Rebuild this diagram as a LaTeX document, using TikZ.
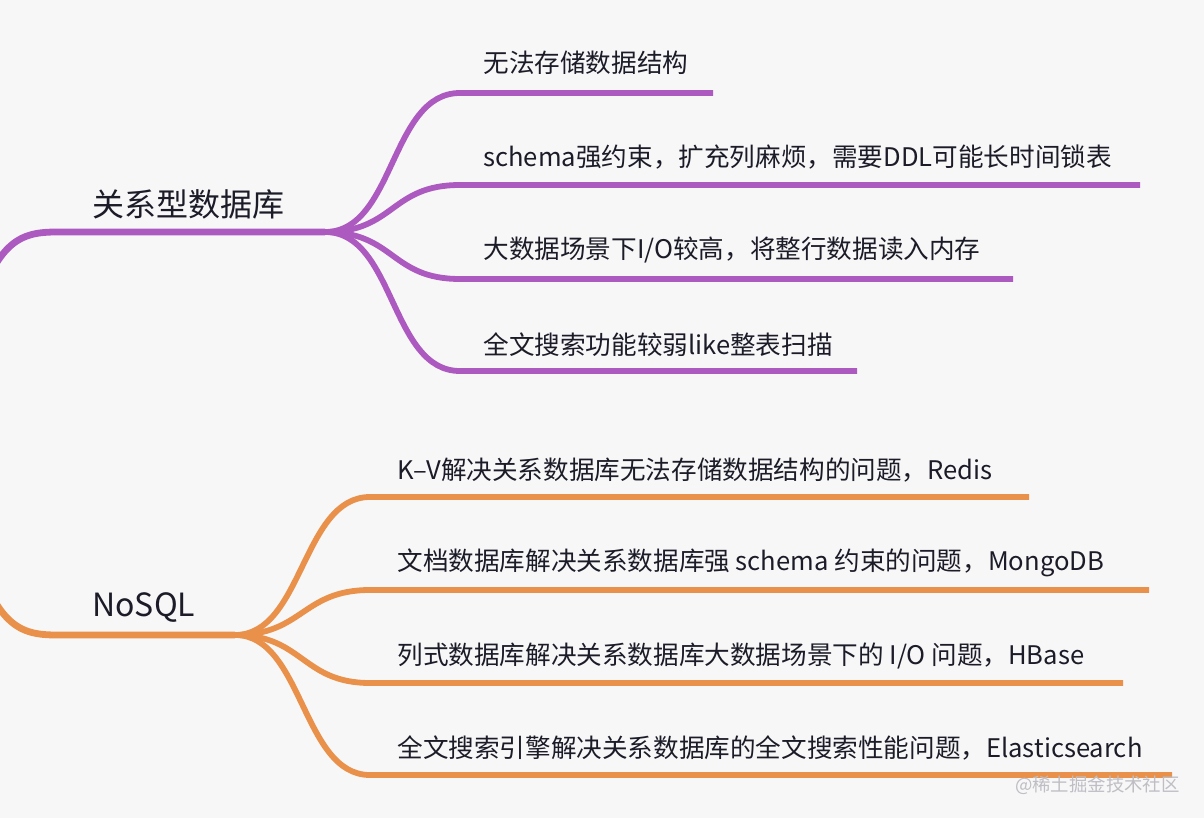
\documentclass[tikz,border=0pt]{standalone}
\usepackage{fontspec}
\newfontfamily\cjk{Noto Sans CJK SC}
\usetikzlibrary{positioning}
\definecolor{bgc}{RGB}{247,247,248}
\definecolor{purp}{RGB}{172,90,192}
\definecolor{oran}{RGB}{233,145,74}
\definecolor{ink}{RGB}{28,28,40}
\definecolor{wmgray}{RGB}{190,190,196}
\tikzset{
  rootlabel/.style={font=\cjk\fontsize{16}{19}\selectfont, text=ink, inner sep=0pt, anchor=west},
  leaf/.style={font=\cjk\fontsize{12.8}{15}\selectfont, text=ink, inner sep=0pt, anchor=west},
  trunk/.style={line width=3.4pt},
  twig/.style={line width=2.9pt},
}

\begin{document}
\begin{tikzpicture}[x=0.5pt,y=-0.5pt]
    \clip (0,0) rectangle (1204,818);
    \fill[bgc] (0,0) rectangle (1204,818);

    % relational databases
    \node[rootlabel] (r1) at (92,204) {关系型数据库};
    \coordinate (s1) at (-30,330);
    \coordinate (h1) at (57,232);
    \coordinate (j1) at (325,232);

    \coordinate (a1) at (460,93);   \coordinate (e1) at (713,93);
    \coordinate (a2) at (460,185);  \coordinate (e2) at (1140,185);
    \coordinate (a3) at (460,279);  \coordinate (e3) at (1013,279);
    \coordinate (a4) at (460,371);  \coordinate (e4) at (857,371);

    \node[leaf] (t1) at (483,63)  {无法存储数据结构};
    \node[leaf] (t2) at (483,157) {schema强约束，扩充列麻烦，需要DDL可能长时间锁表};
    \node[leaf] (t3) at (483,250) {大数据场景下I/O较高，将整行数据读入内存};
    \node[leaf] (t4) at (483,345) {全文搜索功能较弱like整表扫描};

    \draw[purp, trunk] (s1) .. controls (-5,240) and (20,232) .. (h1) -- (j1);
    \draw[purp, twig] (j1) .. controls +(70,0) and +(-70,0) .. (a1) -- (e1);
    \draw[purp, twig] (j1) .. controls +(70,0) and +(-70,0) .. (a2) -- (e2);
    \draw[purp, twig] (j1) .. controls +(70,0) and +(-70,0) .. (a3) -- (e3);
    \draw[purp, twig] (j1) .. controls +(70,0) and +(-70,0) .. (a4) -- (e4);

    % NoSQL
    \node[rootlabel] (r2) at (92,608) {NoSQL};
    \coordinate (s2) at (-30,537);
    \coordinate (h2) at (57,635);
    \coordinate (j2) at (235,635);

    \coordinate (b1) at (370,497);  \coordinate (f1) at (1029,497);
    \coordinate (b2) at (370,590);  \coordinate (f2) at (1149,590);
    \coordinate (b3) at (370,683);  \coordinate (f3) at (1123,683);
    \coordinate (b4) at (370,775);  \coordinate (f4) at (1172,775);

    \node[leaf] (u1) at (397,470) {K–V解决关系数据库无法存储数据结构的问题，Redis};
    \node[leaf] (u2) at (397,563) {文档数据库解决关系数据库强 schema 约束的问题，MongoDB};
    \node[leaf] (u3) at (397,656) {列式数据库解决关系数据库大数据场景下的 I/O 问题，HBase};
    \node[leaf] (u4) at (397,748) {全文搜索引擎解决关系数据库的全文搜索性能问题，Elasticsearch};

    \draw[oran, trunk] (s2) .. controls (-5,627) and (20,635) .. (h2) -- (j2);
    \draw[oran, twig] (j2) .. controls +(68,0) and +(-68,0) .. (b1) -- (f1);
    \draw[oran, twig] (j2) .. controls +(68,0) and +(-68,0) .. (b2) -- (f2);
    \draw[oran, twig] (j2) .. controls +(68,0) and +(-68,0) .. (b3) -- (f3);
    \draw[oran, twig] (j2) .. controls +(68,0) and +(-68,0) .. (b4) -- (f4);

    \node[font=\cjk\fontsize{9.2}{11}\selectfont, text=wmgray, inner sep=0pt, anchor=east] (wm) at (1180,785) {@稀土掘金技术社区};
\end{tikzpicture}
\end{document}
